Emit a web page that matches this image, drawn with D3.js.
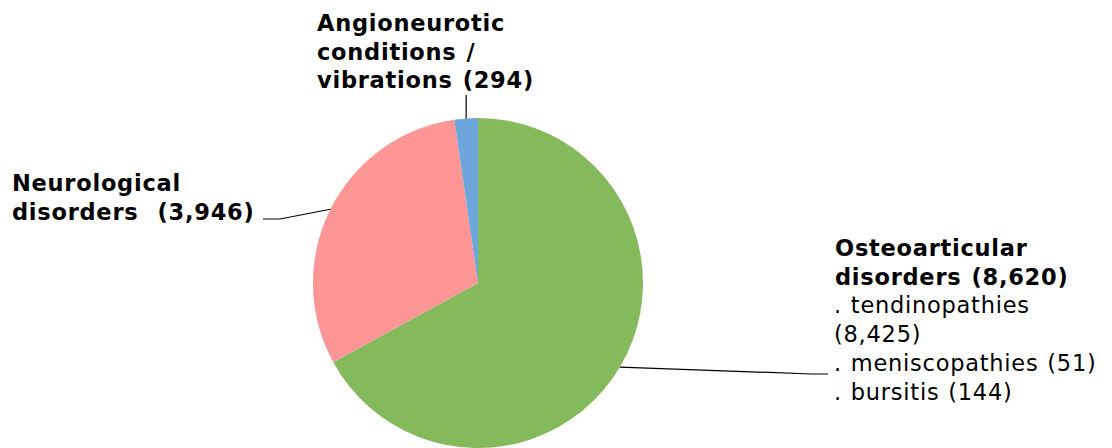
<!DOCTYPE html>
<html><head><meta charset="utf-8">
<script src="https://cdn.jsdelivr.net/npm/d3@7"></script>
<style>body{margin:0;background:#fff}svg{display:block}text{white-space:pre}</style>
</head><body>
<svg id="c" width="1112" height="448"></svg>
<script>
const categories = ["Osteoarticular disorders", "Neurological disorders", "Angioneurotic conditions / vibrations"];
const values = [8620, 3946, 294];
const colors = ["#84BA5B", "#FF9696", "#6CA6DC"];
const subItems = [". tendinopathies", "(8,425)", ". meniscopathies (51)", ". bursitis (144)"];
const labelLines = [
  ["Osteoarticular", "disorders (8,620)"],
  ["Neurological", "disorders  (3,946)"],
  ["Angioneurotic", "conditions /", "vibrations (294)"]
];

const svg = d3.select("#c");
const cx = 478, cy = 283, r = 165;
const pie = d3.pie().sort(null).value(d => d)(values);
const arc = d3.arc().innerRadius(0).outerRadius(r);
const g = svg.append("g").attr("transform", `translate(${cx},${cy})`);
g.selectAll("path").data(pie).enter().append("path")
  .attr("d", arc).attr("fill", (d, i) => colors[i]);

const font = "DejaVu Sans, Verdana, sans-serif";
const fs = 22.5, lh = 28.7, ls = 0.75;

function pt(a, rr) { return [cx + rr * Math.sin(a), cy - rr * Math.cos(a)]; }

const mid = pie.map(d => (d.startAngle + d.endAngle) / 2);
const lineG = svg.append("g").attr("fill", "none").attr("stroke", "#000").attr("stroke-width", 1.2);
{
  const p = pt(mid[0], r);
  lineG.append("path").attr("d", `M${p[0]},${p[1]} L812,374 L828,374`);
}
{
  const p = pt(mid[1], r);
  lineG.append("path").attr("d", `M${p[0]},${p[1]} L280,219 L263,219`);
}
{
  const p = pt(mid[2], r);
  lineG.append("path").attr("d", `M${p[0]},${p[1]} L${p[0]},95`);
}

function block(x, y0, lines, weight, ws) {
  const t = svg.append("text").attr("font-family", font).attr("font-size", fs)
    .attr("font-weight", weight).attr("letter-spacing", ls).attr("word-spacing", ws).attr("fill", "#000");
  lines.forEach((l, i) => t.append("tspan").attr("x", x).attr("y", y0 + i * lh).text(l));
}
block(835, 256, labelLines[0], "bold", 1.5);
block(834, 256 + 2 * lh, subItems, "normal", 1);
block(12, 191, labelLines[1], "bold", 1);
block(317, 31, labelLines[2], "bold", 1.5);
</script>
</body></html>
